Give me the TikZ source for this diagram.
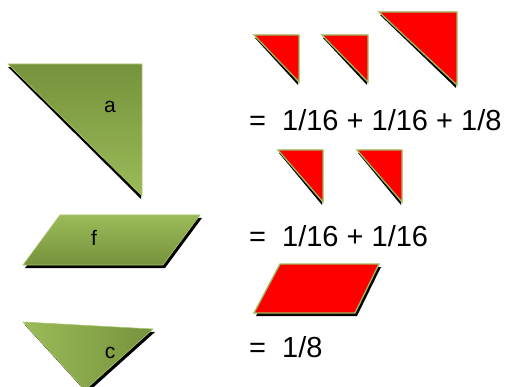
\documentclass[tikz,border=0pt]{standalone}
\usepackage{fontspec}
\setmainfont{Liberation Sans}
\definecolor{olvdark}{HTML}{76923C}
\definecolor{olvlight}{HTML}{9BBB59}
\definecolor{olvedge}{HTML}{A9C66C}
\tikzset{
  shadowfill/.style={fill=black},
  redpiece/.style={fill=red, draw=olvlight, line width=1.3pt, line join=miter},
  greenedge/.style={draw=olvedge, line width=0.6pt},
  eqtext/.style={font=\fontsize{29}{32}\selectfont, anchor=base west, inner sep=0pt},
  lbl/.style={font=\fontsize{21}{24}\selectfont, inner sep=0pt}
}
\begin{document}
\begin{tikzpicture}[x=1pt,y=-1pt]
\useasboundingbox (0,0) rectangle (508,387);
\clip (0,0) rectangle (508,387);
% triangle a
\fill[shadowfill] (8,67) -- (141,67) -- (141,199) -- cycle;
\shade[top color=olvdark,bottom color=olvlight] (8,64) -- (142,64) -- (142,196) -- cycle;
\draw[greenedge] (8,64) -- (142,64) -- (142,196) -- cycle;
\node[lbl] (la) at (110,107) {a};
% parallelogram f
\fill[shadowfill] (62,218) -- (202,218) -- (165,268) -- (25,268) -- cycle;
\shade[top color=olvlight,bottom color=olvdark] (60,215) -- (200,215) -- (163,265) -- (23,265) -- cycle;
\draw[greenedge] (60,215) -- (200,215) -- (163,265) -- (23,265) -- cycle;
\node[lbl] (lf) at (94,238) {f};
% triangle c
\fill[shadowfill] (25,325) -- (155,332) -- (87,393) -- cycle;
\shade[left color=olvlight,right color=olvdark] (23,322) -- (153,329) -- (85,390) -- cycle;
\draw[greenedge] (23,322) -- (153,329) -- (85,390) -- cycle;
\node[lbl] (lc) at (110,353) {c};
% red triangles row 1
\fill[shadowfill] (255,38) -- (298,38) -- (298,85) -- cycle;
\draw[redpiece] (254,35) -- (299,35) -- (299,82) -- cycle;
\fill[shadowfill] (323,38) -- (367,38) -- (367,85) -- cycle;
\draw[redpiece] (322,35) -- (368,35) -- (368,82) -- cycle;
\fill[shadowfill] (380,15) -- (456,15) -- (456,88) -- cycle;
\draw[redpiece] (379,12) -- (457,12) -- (457,85) -- cycle;
% red triangles row 2
\fill[shadowfill] (279,153) -- (322,153) -- (322,205) -- cycle;
\draw[redpiece] (278,150) -- (323,150) -- (323,202) -- cycle;
\fill[shadowfill] (358,153) -- (401,153) -- (401,205) -- cycle;
\draw[redpiece] (357,150) -- (402,150) -- (402,202) -- cycle;
% red parallelogram
\fill[shadowfill] (282,267) -- (381,267) -- (357,316) -- (256,316) -- cycle;
\draw[redpiece] (280,264) -- (379,264) -- (355,313) -- (254,313) -- cycle;
% equations
\node[eqtext] (e1) at (249,131) {=\hspace{8pt} 1/16 + 1/16 + 1/8};
\node[eqtext] (e2) at (249,246) {=\hspace{8pt} 1/16 + 1/16};
\node[eqtext] (e3) at (249,357) {=\hspace{8pt} 1/8};
\end{tikzpicture}
\end{document}
